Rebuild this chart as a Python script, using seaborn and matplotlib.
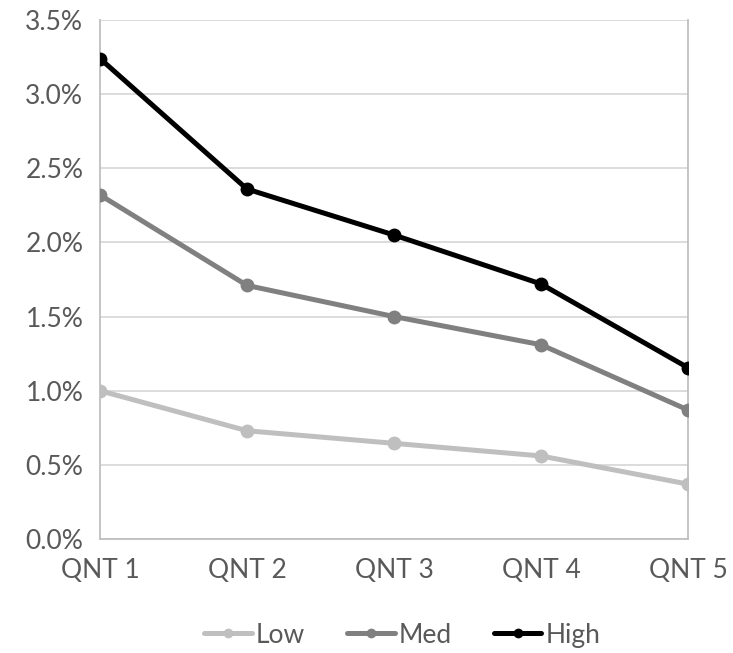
import matplotlib
matplotlib.use("Agg")
import matplotlib.pyplot as plt
import seaborn as sns
import pandas as pd
from matplotlib.ticker import FuncFormatter

categories = ["QNT 1", "QNT 2", "QNT 3", "QNT 4", "QNT 5"]
low = [1.00, 0.73, 0.645, 0.56, 0.37]
med = [2.32, 1.71, 1.50, 1.31, 0.87]
high = [3.24, 2.36, 2.05, 1.72, 1.155]
series_names = ["Low", "Med", "High"]
colors = ["#BFBFBF", "#808080", "#000000"]

df = pd.DataFrame({
    "x": list(range(len(categories))) * 3,
    "value": low + med + high,
    "series": [s for s in series_names for _ in categories],
})

sns.set_style("white")
plt.rcParams["font.family"] = ["Lato", "DejaVu Sans"]

fig = plt.figure(figsize=(7.33, 6.53), dpi=100)
ax = fig.add_axes([0.1364, 0.1746, 0.8022, 0.7948])

sns.lineplot(data=df, x="x", y="value", hue="series", hue_order=series_names,
             palette=colors, marker="o", markersize=10, markeredgewidth=0,
             linewidth=3.6, ax=ax, zorder=3)

ax.set_xlim(0, len(categories) - 1)
ax.set_ylim(0, 3.5)
ax.set_yticks([0, 0.5, 1.0, 1.5, 2.0, 2.5, 3.0, 3.5])
ax.yaxis.set_major_formatter(FuncFormatter(lambda v, _: f"{v:.1f}%"))
ax.set_xticks(range(len(categories)))
ax.set_xticklabels(categories)
ax.set_xlabel("")
ax.set_ylabel("")

ax.grid(axis="y", color="#D9D9D9", linewidth=1.3, zorder=0)
ax.grid(axis="x", visible=False)
for side in ["left", "right", "bottom"]:
    ax.spines[side].set_color("#BFBFBF")
    ax.spines[side].set_linewidth(1.3)
ax.spines["top"].set_visible(False)

ax.tick_params(axis="both", length=0, labelsize=19, labelcolor="#595959")
ax.tick_params(axis="x", pad=14)
ax.tick_params(axis="y", pad=12)

handles, labels = ax.get_legend_handles_labels()
for h in handles:
    h.set_markersize(7)
ax.legend(handles, labels, loc="center", bbox_to_anchor=(0.514, -0.185),
          ncol=3, frameon=False, fontsize=19, labelcolor="#595959",
          handlelength=1.8, handletextpad=0.15, columnspacing=1.6)

fig.savefig("out.png", dpi=100)
